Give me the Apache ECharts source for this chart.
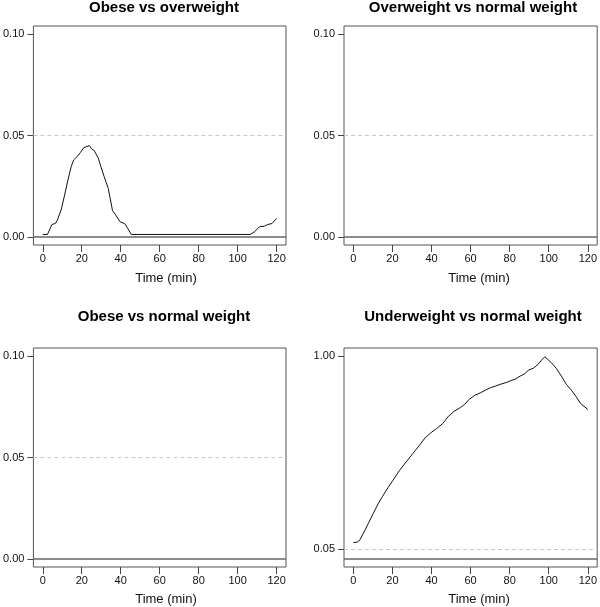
<!DOCTYPE html>
<html>
<head>
<meta charset="utf-8">
<script src="https://cdn.jsdelivr.net/npm/echarts@6/dist/echarts.min.js"></script>
<style>html,body{margin:0;padding:0;background:#fff}#c{width:600px;height:607px}</style>
</head>
<body>
<div id="c"></div>
<script>
// ---- data ----
const panelTitles = ["Obese vs overweight", "Overweight vs normal weight", "Obese vs normal weight", "Underweight vs normal weight"];
const xTicks = [0, 20, 40, 60, 80, 100, 120];
const yTicksSmall = [0, 0.05, 0.10];
const yTicksBig = [0.05, 1.00];
const xLabel = "Time (min)";

// Obese vs overweight
const timeA = [0, 2.4, 4.7, 6.4, 7.5, 9.5, 11.2, 12.9, 14.6, 15.9, 18, 19.3, 21, 22.7, 23.9, 25, 26.4, 28.5, 29.8, 31.5, 33.6, 35.8, 37.5, 39.7, 42, 43.4, 45.4, 106.4, 108.6, 109.5, 111.2, 113.7, 115.4, 117.6, 120];
const pA    = [0.0012, 0.0012, 0.0061, 0.0066, 0.0083, 0.0135, 0.0206, 0.028, 0.0347, 0.038, 0.040, 0.0416, 0.044, 0.0446, 0.045, 0.0434, 0.0426, 0.0388, 0.0347, 0.0297, 0.0239, 0.0129, 0.0107, 0.0074, 0.0066, 0.0045, 0.0012, 0.0012, 0.0025, 0.0033, 0.005, 0.0053, 0.0061, 0.0066, 0.0091];

// Underweight vs normal weight
const timeD = [0, 2, 3.4, 5, 7.6, 10.1, 12.7, 14.9, 17.7, 20.3, 23.7, 27, 30.4, 33.8, 36.8, 40.2, 42.6, 45.7, 48.7, 51.6, 54.9, 57.1, 59.2, 62.2, 65, 67.6, 70.1, 72.7, 75.2, 78.6, 81.1, 82.8, 85.3, 87.9, 89.6, 92.1, 94.6, 96.3, 98, 98.9, 101.4, 103.9, 106.5, 109, 111.6, 114.1, 116.3, 120];
const pD    = [0.080, 0.083, 0.094, 0.124, 0.174, 0.223, 0.272, 0.308, 0.351, 0.388, 0.437, 0.478, 0.519, 0.560, 0.598, 0.626, 0.643, 0.667, 0.704, 0.728, 0.747, 0.763, 0.786, 0.807, 0.819, 0.832, 0.844, 0.852, 0.861, 0.871, 0.881, 0.886, 0.901, 0.914, 0.931, 0.940, 0.960, 0.980, 0.997, 0.993, 0.967, 0.939, 0.901, 0.861, 0.832, 0.799, 0.766, 0.737];

// ---- layout ----
const FONT = '"Liberation Sans", Arial, Helvetica, sans-serif';
const grids = [
  {left: 32, top: 26, width: 254, height: 219},
  {left: 344, top: 26, width: 255, height: 219},
  {left: 32, top: 348, width: 254, height: 219},
  {left: 344, top: 348, width: 255, height: 219}
];
const titleX = [164, 473, 164, 473];
const titleY = [8, 8, 317, 317];
const xlabX = [166, 479, 166, 479];
const xlabY = [278, 278, 599, 599];

const yRanges = [[-0.004, 0.104], [-0.004, 0.104], [-0.004, 0.104], [-0.04, 1.04]];
const yTicksPer = [yTicksSmall, yTicksSmall, yTicksSmall, yTicksBig];
const seriesData = [
  timeA.map((t, i) => [t, pA[i]]),
  [],
  [],
  timeD.map((t, i) => [t, pD[i]])
];

const option = {
  animation: false,
  backgroundColor: '#fff',
  grid: grids.map(g => Object.assign({show: true, borderColor: '#555', borderWidth: 1, backgroundColor: 'transparent', containLabel: false}, g)),
  xAxis: grids.map((g, i) => ({
    type: 'value', gridIndex: i, min: -4.8, max: 124.8, position: 'bottom',
    axisLine: {show: false, onZero: false},
    splitLine: {show: false},
    axisTick: {show: true, inside: false, length: 7, customValues: xTicks, lineStyle: {color: '#444', width: 1}},
    axisLabel: {show: true, customValues: xTicks, margin: 8, fontSize: 11, fontFamily: FONT, color: '#111'}
  })),
  yAxis: grids.map((g, i) => ({
    type: 'value', gridIndex: i, min: yRanges[i][0], max: yRanges[i][1], position: 'left',
    axisLine: {show: false, onZero: false},
    splitLine: {show: false},
    axisTick: {show: true, inside: false, length: 6, customValues: yTicksPer[i], lineStyle: {color: '#444', width: 1}},
    axisLabel: {show: true, customValues: yTicksPer[i], margin: 9, fontSize: 11, fontFamily: FONT, color: '#111',
      formatter: v => Number(v).toFixed(2)}
  })),
  series: grids.map((g, i) => ({
    type: 'line', xAxisIndex: i, yAxisIndex: i,
    data: seriesData[i],
    showSymbol: false, symbol: 'none', smooth: false, silent: true,
    lineStyle: {color: '#111', width: 1},
    z: 5,
    markLine: {
      silent: true, symbol: 'none', animation: false,
      label: {show: false},
      data: [
        {yAxis: 0.05, lineStyle: {type: [4, 3], color: '#c8c8c8', width: 1}},
        {yAxis: 0, lineStyle: {type: 'solid', color: '#666', width: 1.5}}
      ]
    }
  })),
  graphic: [].concat(
    panelTitles.map((t, i) => ({
      type: 'text', x: titleX[i], y: titleY[i],
      style: {text: t, fontSize: 15, fontWeight: 'bold', fontFamily: FONT, fill: '#000', align: 'center', verticalAlign: 'middle'}
    })),
    panelTitles.map((t, i) => ({
      type: 'text', x: xlabX[i], y: xlabY[i],
      style: {text: xLabel, fontSize: 13, fontFamily: FONT, fill: '#111', align: 'center', verticalAlign: 'middle'}
    }))
  )
};

const chart = echarts.init(document.getElementById('c'), null, {renderer: 'canvas'});
chart.setOption(option);
</script>
</body>
</html>
